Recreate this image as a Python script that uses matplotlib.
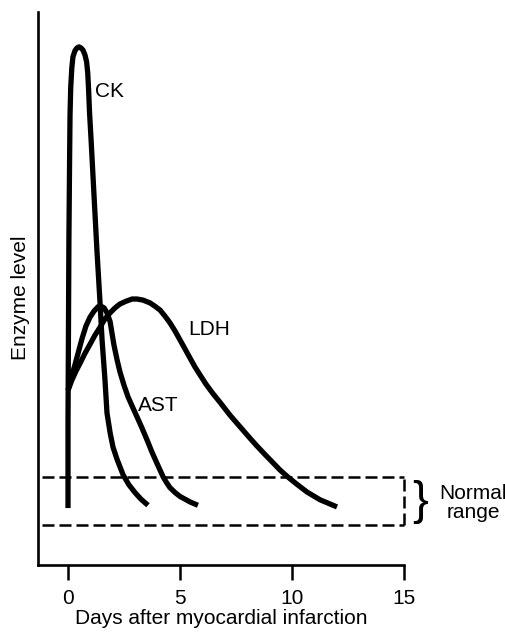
import matplotlib
matplotlib.use("Agg")
import matplotlib.pyplot as plt

plt.rcParams['font.family'] = ['Liberation Sans', 'DejaVu Sans']

# Enzyme curves (days, arbitrary level)
ck_days = [0.00, 0.00, 0.02, 0.04, 0.07, 0.09, 0.12, 0.17, 0.22, 0.31, 0.40,
           0.49, 0.58, 0.67, 0.76, 0.83, 0.88, 0.92, 0.96, 1.03, 1.16, 1.29,
           1.43, 1.52, 1.65, 1.74, 1.88, 2.01, 2.19, 2.46, 2.72, 2.99, 3.26,
           3.57]
ck_level = [10.3, 26.2, 42.5, 58.8, 73.2, 81.4, 86.3, 89.9, 91.9, 93.0, 93.5,
            93.7, 93.5, 93.1, 92.2, 91.0, 89.0, 85.9, 81.9, 76.9, 66.9, 57.0,
            47.4, 40.7, 33.5, 27.5, 23.9, 21.3, 19.1, 16.3, 14.5, 13.1, 11.9,
            10.8]

ast_days = [0.00, 0.09, 0.18, 0.31, 0.45, 0.63, 0.80, 0.98, 1.16, 1.34, 1.47,
            1.61, 1.74, 1.88, 1.96, 2.05, 2.19, 2.32, 2.50, 2.68, 2.90, 3.08,
            3.30, 3.53, 3.75, 3.97, 4.24, 4.40, 4.55, 4.78, 5.00, 5.45, 5.80]
ast_level = [31.6, 32.9, 34.4, 36.2, 38.3, 41.0, 43.2, 44.8, 45.9, 46.7, 46.8,
             46.5, 45.6, 44.0, 42.0, 39.8, 37.1, 34.9, 32.5, 30.4, 28.4, 26.8,
             24.8, 22.6, 20.4, 18.4, 16.0, 14.9, 14.0, 13.1, 12.4, 11.4, 10.8]

ldh_days = [0.00, 0.18, 0.36, 0.54, 0.76, 0.98, 1.21, 1.43, 1.65, 1.88, 2.10,
            2.32, 2.59, 2.86, 3.08, 3.35, 3.66, 3.88, 4.11, 4.33, 4.55, 4.78,
            5.00, 5.22, 5.45, 5.67, 5.89, 6.16, 6.47, 6.79, 7.23, 7.68, 8.13,
            8.44, 8.79, 9.15, 9.46, 9.82, 10.22, 10.67, 11.25, 12.01]
ldh_level = [31.6, 33.5, 35.1, 36.5, 38.3, 39.9, 41.6, 43.0, 44.5, 45.6, 46.5,
             47.2, 47.7, 48.1, 48.1, 47.9, 47.4, 46.8, 46.1, 45.0, 43.8, 42.3,
             40.7, 39.1, 37.4, 35.8, 34.4, 32.7, 31.0, 29.4, 27.1, 25.0, 22.9,
             21.5, 20.0, 18.5, 17.2, 15.9, 14.6, 13.2, 11.8, 10.5]

normal_low = 7.2
normal_high = 15.9
normal_start = -1.16
normal_end = 15

xticks = [0, 5, 10, 15]

fig = plt.figure(figsize=(5.06, 6.32), dpi=100)
ax = fig.add_axes([0.0751, 0.106, 0.7233, 0.875])

curve_style = dict(color='black', lw=3.8, solid_capstyle='butt', solid_joinstyle='round')
ax.plot(ck_days, ck_level, **curve_style)
ax.plot(ast_days, ast_level, **curve_style)
ax.plot(ldh_days, ldh_level, **curve_style)

# normal range box (dashed, open on the left)
dash_style = dict(color='black', lw=1.8, dashes=(4.8, 2.0), clip_on=False)
ax.plot([normal_start, normal_end], [normal_high, normal_high], **dash_style)
ax.plot([normal_start, normal_end], [normal_low, normal_low], **dash_style)
ax.plot([normal_end, normal_end], [normal_low, normal_high], **dash_style)

ax.text(15.7, 11.4, '}', fontsize=34, ha='center', va='center', clip_on=False)
ax.text(18.1, 11.2, 'Normal\nrange', fontsize=15, ha='center', va='center',
        linespacing=0.95, clip_on=False)

# curve labels
ax.text(1.21, 85.7, 'CK', fontsize=15, ha='left', va='center')
ax.text(5.36, 42.5, 'LDH', fontsize=15, ha='left', va='center')
ax.text(3.13, 28.8, 'AST', fontsize=15, ha='left', va='center')

ax.set_xlim(-1.34, 15)
ax.set_ylim(0, 100)
ax.set_xticks(xticks)
ax.set_yticks([])
ax.tick_params(axis='x', length=11, width=1.8, labelsize=15, pad=6)
for side in ['top', 'right']:
    ax.spines[side].set_visible(False)
for side in ['left', 'bottom']:
    ax.spines[side].set_linewidth(1.9)

ax.set_xlabel('Days after myocardial infarction', fontsize=15, labelpad=1)
fig.text(21 / 506, 1 - 298 / 632, 'Enzyme level', rotation=90, fontsize=15,
         ha='center', va='center')

fig.savefig('out.png', dpi=100)
